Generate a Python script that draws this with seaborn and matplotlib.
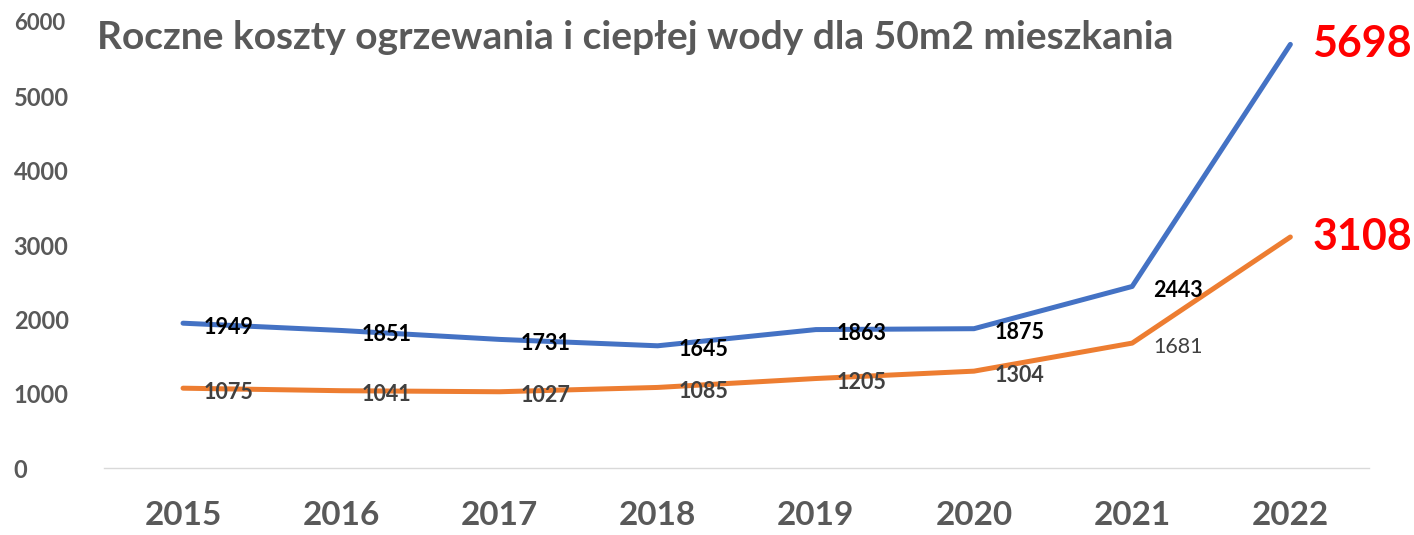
import numpy as np
import pandas as pd
import seaborn as sns
import matplotlib
matplotlib.use("Agg")
import matplotlib.pyplot as plt

years = [2015, 2016, 2017, 2018, 2019, 2020, 2021, 2022]
koszt_a = [1949, 1851, 1731, 1645, 1863, 1875, 2443, 5698]
koszt_b = [1075, 1041, 1027, 1085, 1205, 1304, 1681, 3108]
y_ticks = [0, 1000, 2000, 3000, 4000, 5000, 6000]
title = "Roczne koszty ogrzewania i ciepłej wody dla 50m2 mieszkania"

df = pd.DataFrame({
    "rok": years * 2,
    "koszt": koszt_a + koszt_b,
    "seria": ["A"] * len(years) + ["B"] * len(years),
})

sns.set_style("white")
plt.rcParams["font.family"] = ["Lato", "DejaVu Sans"]

fig = plt.figure(figsize=(14.14, 5.35), dpi=100)
ax = fig.add_axes([0.0735, 0.125, 0.895, 0.834])

sns.lineplot(data=df, x="rok", y="koszt", hue="seria",
             palette={"A": "#4472C4", "B": "#ED7D31"},
             linewidth=3.6, legend=False, ax=ax)

ax.set_xlim(years[0] - 0.5, years[-1] + 0.5)
ax.set_ylim(0, 6000)
ax.set_xticks(years)
ax.set_xticklabels([str(y) for y in years], fontsize=24, fontweight="bold", color="#595959")
ax.set_yticks(y_ticks)
ax.set_yticklabels([str(t) for t in y_ticks], fontsize=17, fontweight="bold", color="#595959")
ax.tick_params(axis="both", length=0)
ax.tick_params(axis="x", pad=24)
ax.tick_params(axis="y", pad=65)
for lab in ax.get_yticklabels():
    lab.set_horizontalalignment("left")
ax.get_yticklabels()[-1].set_fontsize(16)
ax.set_xlabel("")
ax.set_ylabel("")
for s in ["top", "right", "left"]:
    ax.spines[s].set_visible(False)
ax.spines["bottom"].set_color("#D9D9D9")
ax.spines["bottom"].set_linewidth(1)

# data labels
for i, (yr, v) in enumerate(zip(years, koszt_a)):
    if i == len(years) - 1:
        ax.annotate(str(v), (yr, v), xytext=(16, 0), textcoords="offset points",
                    ha="left", va="center", fontsize=31, fontweight="bold", color="#FF0000")
    else:
        ax.annotate(str(v), (yr, v), xytext=(15, -3), textcoords="offset points",
                    ha="left", va="center", fontsize=15.5, fontweight="bold", color="black")
for i, (yr, v) in enumerate(zip(years, koszt_b)):
    if i == len(years) - 1:
        ax.annotate(str(v), (yr, v), xytext=(16, 0), textcoords="offset points",
                    ha="left", va="center", fontsize=31, fontweight="bold", color="#FF0000")
    else:
        w = "normal" if yr == 2021 else "bold"
        ax.annotate(str(v), (yr, v), xytext=(15, -3), textcoords="offset points",
                    ha="left", va="center", fontsize=15.5, fontweight=w, color="#404040")

fig.text(0.0686, 0.93, title, fontsize=28, fontweight="bold", color="#595959",
         ha="left", va="center")

fig.savefig("out.png", dpi=100)
